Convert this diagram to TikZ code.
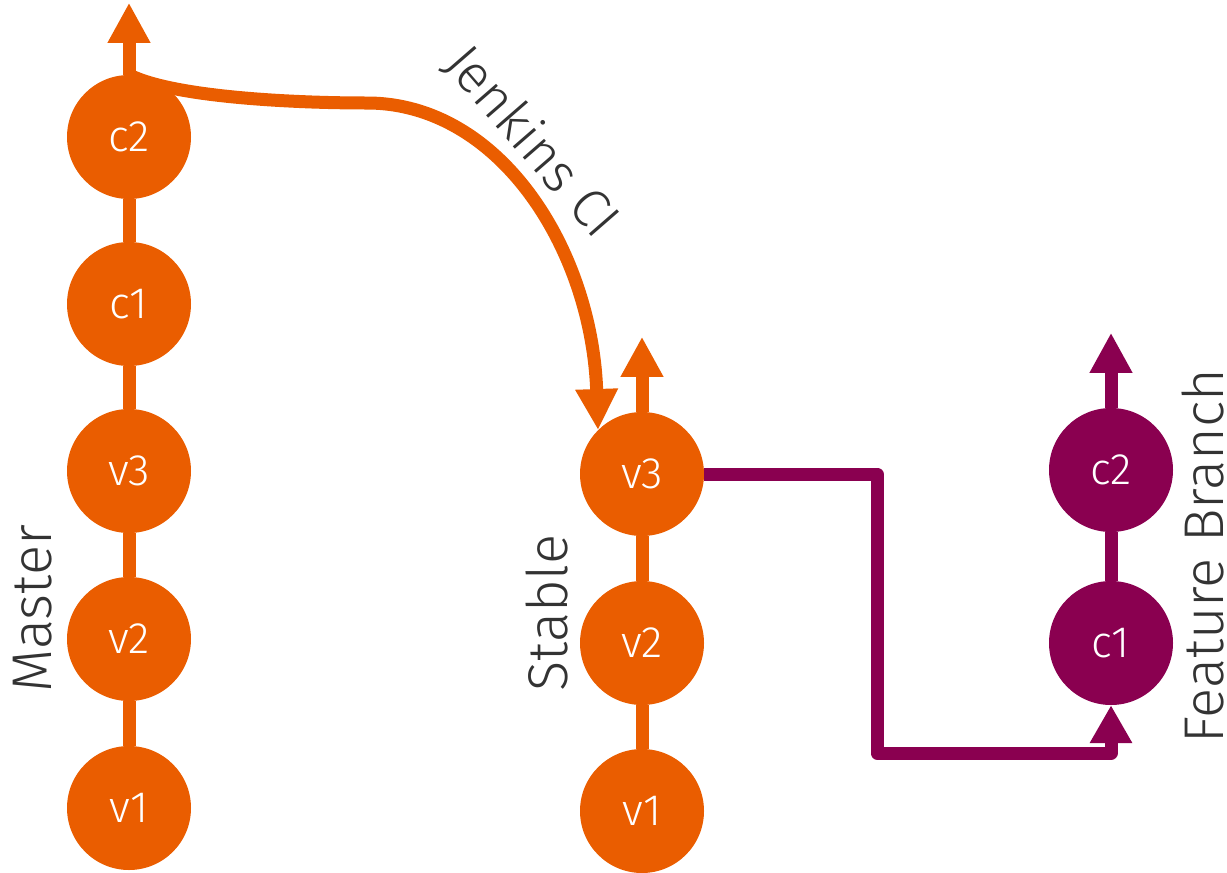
\documentclass[tikz,border=0pt]{standalone}
\usepackage{fontspec}
\setmainfont{Fira Sans}[UprightFont=* Light]
\usetikzlibrary{arrows.meta}
\definecolor{orng}{HTML}{EA5D00}
\definecolor{purp}{HTML}{8A0050}
\definecolor{txt}{HTML}{333333}
\tikzset{
  commit/.style={circle, minimum size=124pt, inner sep=0pt, text=white, font=\fontsize{44}{44}\selectfont},
  ocommit/.style={commit, fill=orng},
  pcommit/.style={commit, fill=purp},
  lbl/.style={text=txt, font=\fontsize{56}{60}\selectfont, inner sep=0pt},
  oline/.style={draw=orng, line width=13pt},
  pline/.style={draw=purp, line width=13pt, line join=round},
  uptip/.style={-{Triangle[length=40pt,width=40pt]}},
}
\begin{document}
\begin{tikzpicture}[x=1pt,y=-1pt]
\useasboundingbox (0,0) rectangle (1227,873);
% Master
\node[ocommit] (m1) at (129,808) {v1};
\node[ocommit] (m2) at (129,639) {v2};
\node[ocommit] (m3) at (129,471) {v3};
\node[ocommit] (m4) at (129,304) {c1};
\node[ocommit] (m5) at (129,137) {c2};
% Stable
\node[ocommit] (s1) at (642,811) {v1};
\node[ocommit] (s2) at (642,643) {v2};
\node[ocommit] (s3) at (642,474) {v3};
% Feature
\node[pcommit] (f1) at (1111,643) {c1};
\node[pcommit] (f2) at (1111,470) {c2};
% labels
\node[lbl, rotate=90] (master) at (33,609) {Master};
\node[lbl, rotate=90] (stable) at (547,613) {Stable};
\node[lbl, rotate=90] (feature) at (1203,556) {Feature Branch};
\node[lbl, rotate=-49, font=\fontsize{54}{58}\selectfont] (jenkins) at (532,142) {Jenkins CI};
% connectors
\draw[oline] (m1) -- (m2);
\draw[oline] (m2) -- (m3);
\draw[oline] (m3) -- (m4);
\draw[oline] (m4) -- (m5);
\draw[oline] (s1) -- (s2);
\draw[oline] (s2) -- (s3);
\draw[pline] (f1) -- (f2);
\draw[oline, uptip] (m5.north) -- ++(0,-72);
\draw[oline, uptip] (s3.north) -- ++(0,-75);
\draw[pline, uptip] (f2.north) -- ++(0,-75);
\draw[oline, -{Triangle[length=41pt,width=40pt]}] (m5.north) .. controls (175,98) and (300,103) .. (367,103) .. controls (500,103) and (592,250) .. (s3.135);
\draw[pline, -{Triangle[length=38pt,width=40pt]}] (s3.east) -| (877,753) -| (f1.south);
\end{tikzpicture}
\end{document}
